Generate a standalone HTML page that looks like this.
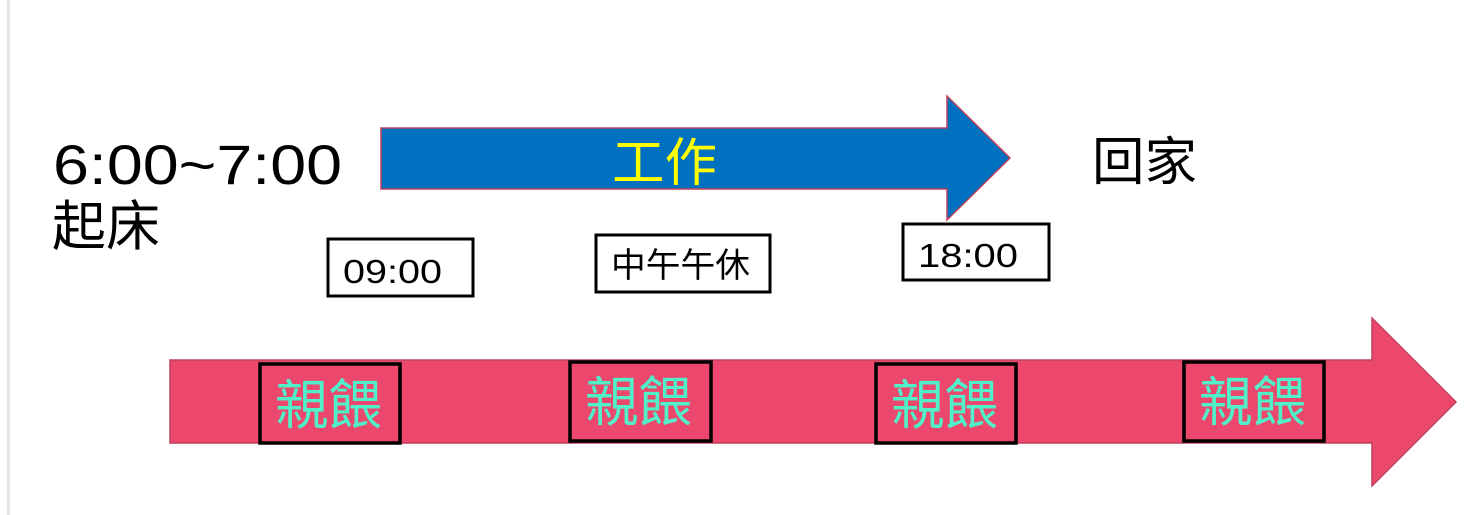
<!DOCTYPE html>
<html><head><meta charset="utf-8"><style>
html,body{margin:0;padding:0;background:#fff;}
svg{display:block;}
text{font-family:"Liberation Sans","Noto Sans CJK TC",sans-serif;}
</style></head><body>
<svg width="1480" height="515" viewBox="0 0 1480 515" xmlns="http://www.w3.org/2000/svg">
<rect x="0" y="0" width="1480" height="515" fill="#fff"/>
<rect x="7" y="0" width="3" height="515" fill="#e6e6e6"/>
<polygon points="381,128 947,128 947,96 1010,158 947,220 947,189 381,189" fill="#0070c0" stroke="#c0405a" stroke-width="1.5"/>
<text x="612" y="181" font-size="52" fill="#ffff00" textLength="105" lengthAdjust="spacingAndGlyphs">工作</text>
<polygon points="170,360 1372,360 1372,318 1456,402 1372,486 1372,443 170,443" fill="#ec486e" stroke="#c0405a" stroke-width="1.5"/>
<text x="53" y="184" font-size="56" fill="#000" textLength="289" lengthAdjust="spacingAndGlyphs">6:00~7:00</text>
<text x="52" y="245" font-size="54" fill="#000" textLength="108" lengthAdjust="spacingAndGlyphs">起床</text>
<text x="1092" y="180" font-size="52" fill="#000" textLength="105" lengthAdjust="spacingAndGlyphs">回家</text>
<g fill="#fff" stroke="#000" stroke-width="3">
<rect x="328" y="239" width="145" height="57"/>
<rect x="596" y="235" width="174" height="57"/>
<rect x="903" y="224" width="146" height="56"/>
</g>
<text x="343" y="283" font-size="33" textLength="99" lengthAdjust="spacingAndGlyphs">09:00</text>
<text x="611" y="277" font-size="34" textLength="139" lengthAdjust="spacingAndGlyphs">中午午休</text>
<text x="918" y="267" font-size="33" textLength="100" lengthAdjust="spacingAndGlyphs">18:00</text>
<g fill="none" stroke="#000" stroke-width="3.5">
<rect x="260" y="364" width="140" height="79"/>
<rect x="570" y="362" width="141" height="79"/>
<rect x="876" y="364" width="140" height="79"/>
<rect x="1184" y="362" width="140" height="79"/>
</g>
<g font-size="54" fill="#50f0c8">
<text x="275" y="424" textLength="107" lengthAdjust="spacingAndGlyphs">親餵</text>
<text x="585" y="421" textLength="107" lengthAdjust="spacingAndGlyphs">親餵</text>
<text x="891" y="424" textLength="107" lengthAdjust="spacingAndGlyphs">親餵</text>
<text x="1199" y="421" textLength="107" lengthAdjust="spacingAndGlyphs">親餵</text>
</g>
</svg>
</body></html>
